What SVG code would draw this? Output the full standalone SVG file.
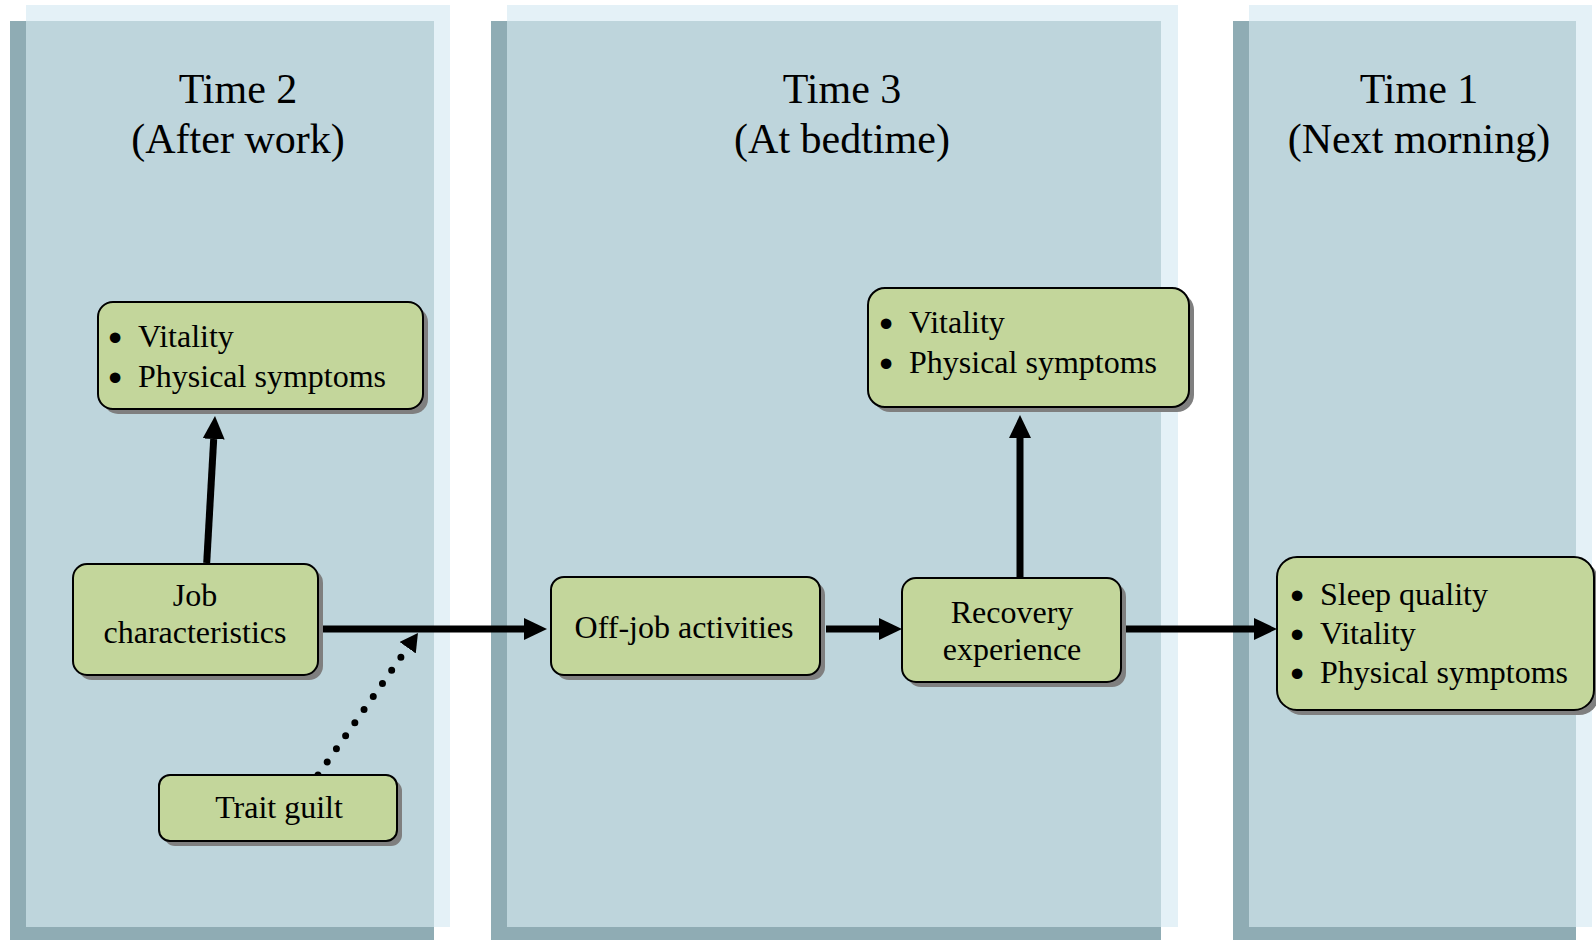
<svg xmlns="http://www.w3.org/2000/svg" width="1596" height="940" viewBox="0 0 1596 940">
<style>
.t{font-family:"Liberation Serif","Times New Roman",serif;fill:#000}
.title{font-size:42px;text-anchor:middle}
.lbl{font-size:32px}
.bul{text-anchor:middle;stroke:#000;stroke-width:3;stroke-linejoin:round}
.lt{text-anchor:start}
.mid{text-anchor:middle}
.box{fill:#C3D69B;stroke:#000;stroke-width:2}
.sh{fill:#7F7F7F}
.pl{fill:#E4F1F7}
.pd{fill:#8FACB4}
.pm{fill:#BED5DC}
.conn{stroke:#000;stroke-width:7;fill:none}
.dot{stroke:#000;stroke-width:7;fill:none;stroke-linecap:round;stroke-dasharray:0 16}
</style>
<defs>
<marker id="ah" markerUnits="userSpaceOnUse" viewBox="0 0 23 22" refX="0" refY="11" markerWidth="23" markerHeight="22" orient="auto"><path d="M0,0 L23,11 L0,22 Z" fill="#000"/></marker>
<marker id="ahs" markerUnits="userSpaceOnUse" viewBox="0 0 18 20" refX="0" refY="10" markerWidth="18" markerHeight="20" orient="auto"><path d="M0,0 L18,10 L0,20 Z" fill="#000"/></marker>
</defs>
<rect width="1596" height="940" fill="#fff"/>
<g id="panel-time2">
<rect class="pl" x="26" y="5" width="424" height="922"/>
<rect class="pd" x="10" y="21" width="424" height="919"/>
<rect class="pm" x="26" y="21" width="408" height="906"/>
<text class="t title" x="238" y="103">Time 2</text>
<text class="t title" x="238" y="153">(After work)</text>
</g>
<g id="panel-time3">
<rect class="pl" x="507" y="5" width="671" height="922"/>
<rect class="pd" x="491" y="21" width="670" height="919"/>
<rect class="pm" x="507" y="21" width="654" height="906"/>
<text class="t title" x="842" y="103">Time 3</text>
<text class="t title" x="842" y="153">(At bedtime)</text>
</g>
<g id="panel-time1">
<rect class="pl" x="1249" y="5" width="343" height="922"/>
<rect class="pd" x="1233" y="21" width="343" height="919"/>
<rect class="pm" x="1249" y="21" width="327" height="906"/>
<text class="t title" x="1419" y="103">Time 1</text>
<text class="t title" x="1419" y="153">(Next morning)</text>
</g>
<g id="connectors">
<line class="conn" x1="206.7" y1="563" x2="213.7" y2="439" marker-end="url(#ah)"/>
<line class="conn" x1="318" y1="629" x2="524" y2="629" marker-end="url(#ah)"/>
<line class="conn" x1="826" y1="629" x2="879" y2="629" marker-end="url(#ah)"/>
<line class="conn" x1="1020" y1="577" x2="1020" y2="438" marker-end="url(#ah)"/>
<line class="conn" x1="1121" y1="629" x2="1254" y2="629" marker-end="url(#ah)"/>
<line class="dot" x1="318" y1="775" x2="407.6" y2="647.7" marker-end="url(#ahs)"/>
</g>
<g id="node-t2-outcomes">
<rect class="sh" x="103" y="307" width="325" height="107" rx="15"/>
<rect class="box" x="98" y="302" width="325" height="107" rx="15"/>
<text class="t lbl"><tspan class="bul" x="115" y="349">•</tspan><tspan class="lt" x="138" y="347">Vitality</tspan></text>
<text class="t lbl"><tspan class="bul" x="115" y="389">•</tspan><tspan class="lt" x="138" y="387">Physical symptoms</tspan></text>
</g>
<g id="node-job">
<rect class="sh" x="78" y="569" width="245" height="111" rx="14"/>
<rect class="box" x="73" y="564" width="245" height="111" rx="14"/>
<text class="t lbl mid" x="195" y="606">Job</text>
<text class="t lbl mid" x="195" y="643">characteristics</text>
</g>
<g id="node-guilt">
<rect class="sh" x="164" y="780" width="238" height="66" rx="11"/>
<rect class="box" x="159" y="775" width="238" height="66" rx="11"/>
<text class="t lbl mid" x="279" y="818">Trait guilt</text>
</g>
<g id="node-offjob">
<rect class="sh" x="556" y="582" width="269" height="98" rx="13"/>
<rect class="box" x="551" y="577" width="269" height="98" rx="13"/>
<text class="t lbl mid" x="684" y="638">Off-job activities</text>
</g>
<g id="node-recovery">
<rect class="sh" x="907" y="583" width="219" height="104" rx="14"/>
<rect class="box" x="902" y="578" width="219" height="104" rx="14"/>
<text class="t lbl mid" x="1012" y="623">Recovery</text>
<text class="t lbl mid" x="1012" y="660">experience</text>
</g>
<g id="node-t3-outcomes">
<rect class="sh" x="873" y="293" width="321" height="119" rx="17"/>
<rect class="box" x="868" y="288" width="321" height="119" rx="17"/>
<text class="t lbl"><tspan class="bul" x="886" y="335">•</tspan><tspan class="lt" x="909" y="333">Vitality</tspan></text>
<text class="t lbl"><tspan class="bul" x="886" y="375">•</tspan><tspan class="lt" x="909" y="373">Physical symptoms</tspan></text>
</g>
<g id="node-t1-outcomes">
<rect class="sh" x="1282" y="562" width="317" height="153" rx="20"/>
<rect class="box" x="1277" y="557" width="317" height="153" rx="20"/>
<text class="t lbl"><tspan class="bul" x="1297" y="607">•</tspan><tspan class="lt" x="1320" y="605">Sleep quality</tspan></text>
<text class="t lbl"><tspan class="bul" x="1297" y="646">•</tspan><tspan class="lt" x="1320" y="644">Vitality</tspan></text>
<text class="t lbl"><tspan class="bul" x="1297" y="685">•</tspan><tspan class="lt" x="1320" y="683">Physical symptoms</tspan></text>
</g>
</svg>
